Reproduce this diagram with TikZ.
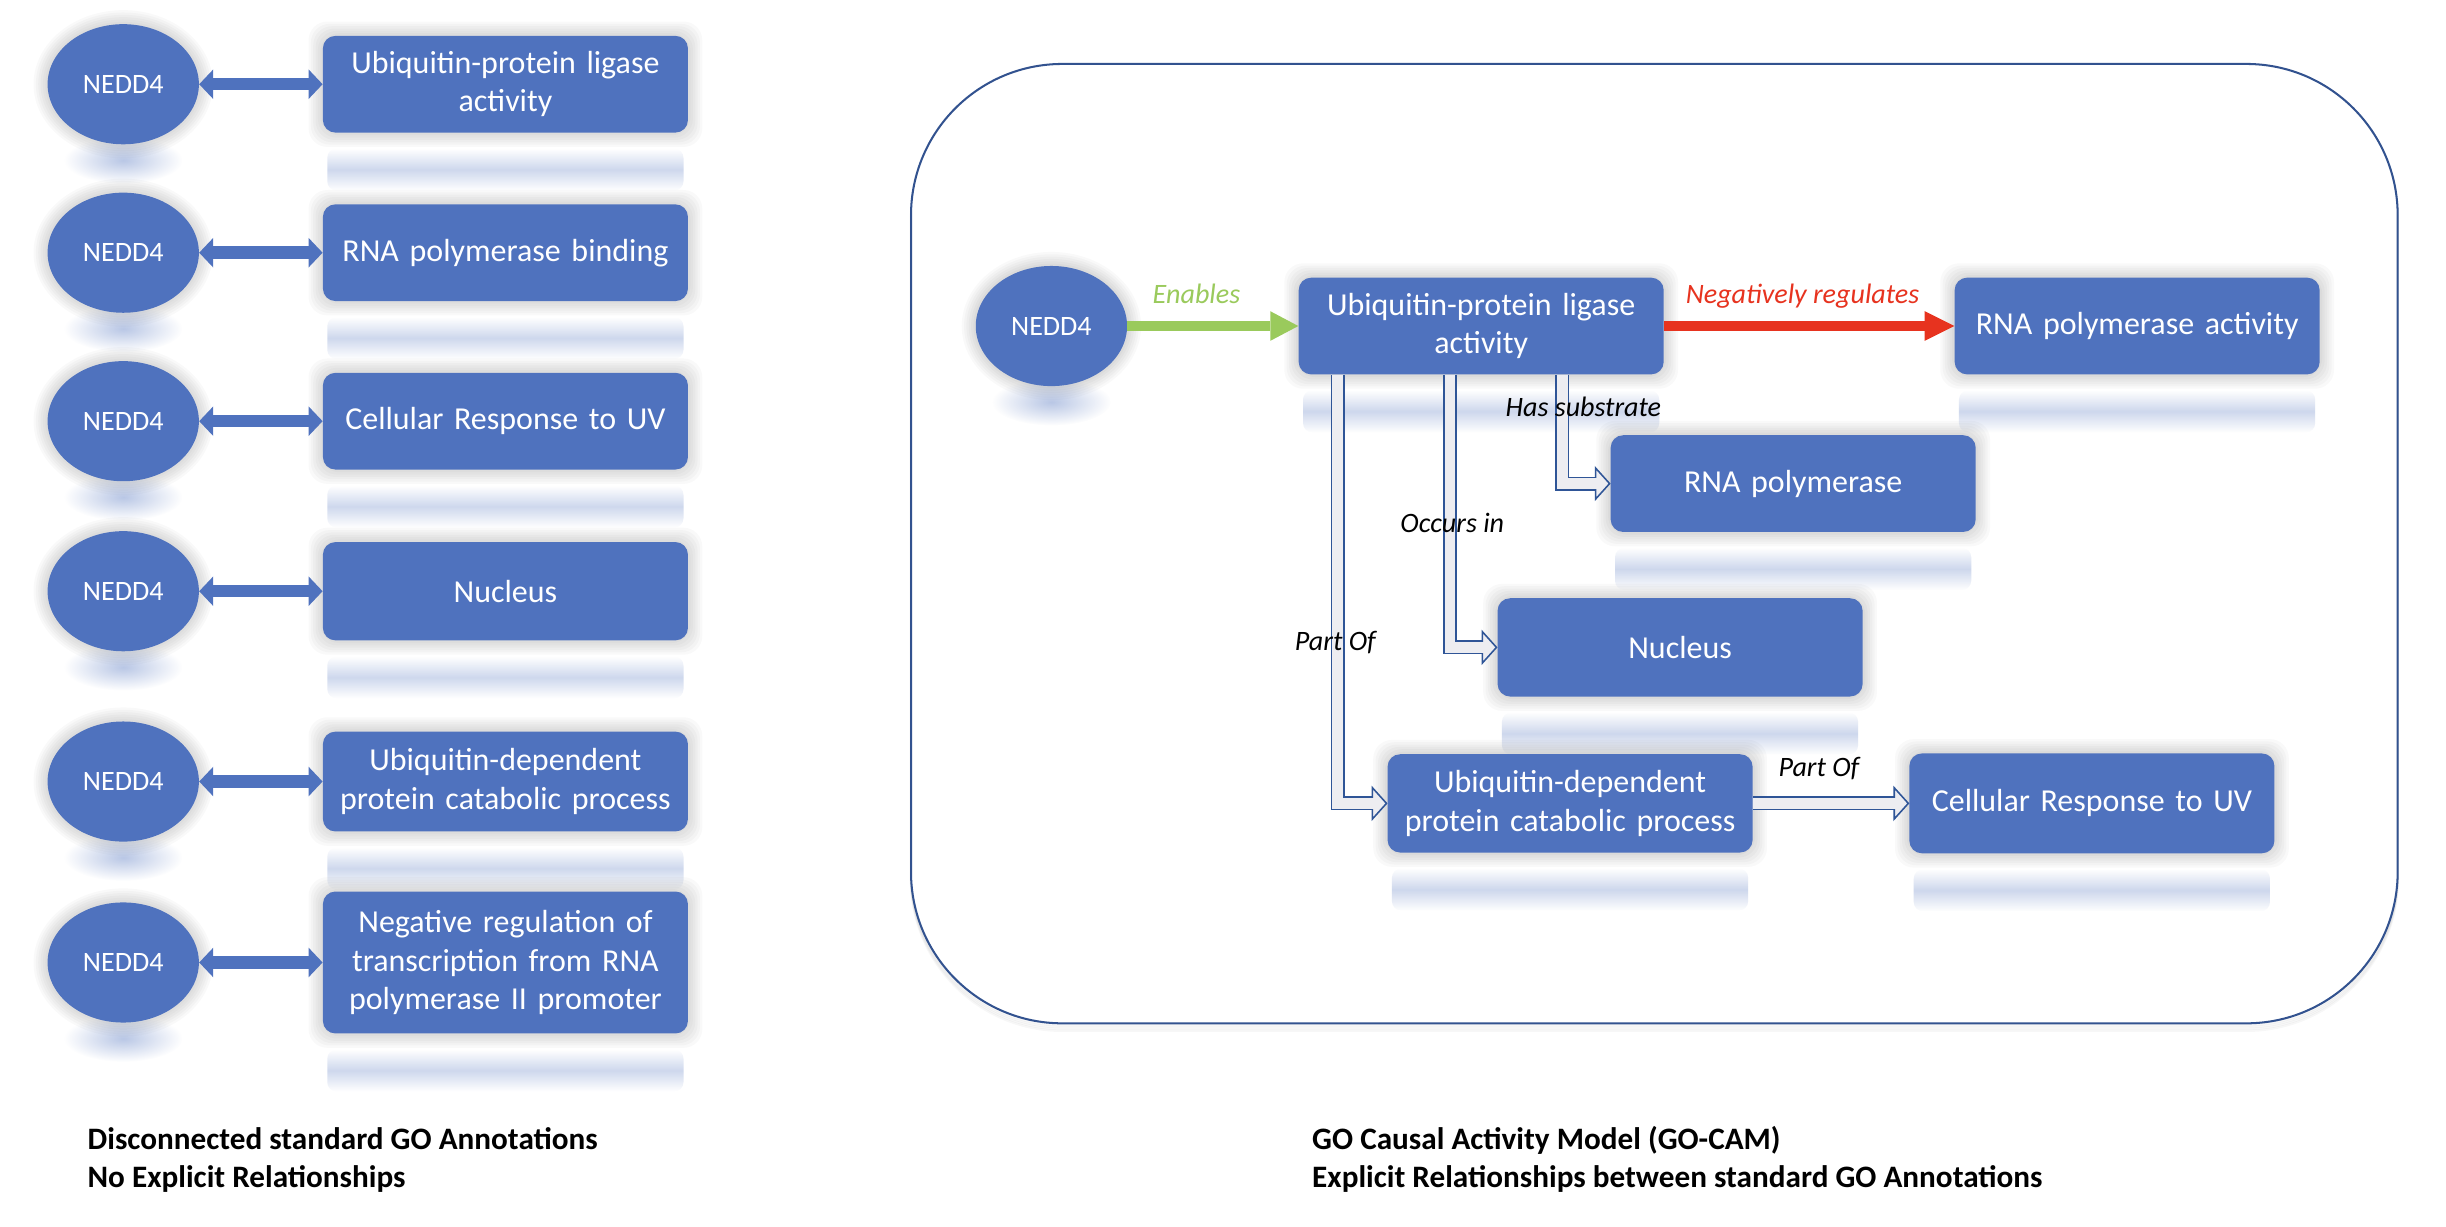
\documentclass[tikz,border=0pt]{standalone}
\usepackage{fontspec}
\setmainfont{Carlito}
\usetikzlibrary{arrows.meta,positioning,shapes.geometric,fadings}

\definecolor{boxblue}{HTML}{4F72BE}
\definecolor{enablegreen}{HTML}{9ACA5C}
\definecolor{negred}{HTML}{E7331F}
\definecolor{panelblue}{HTML}{32528F}
\definecolor{hollowedge}{HTML}{2F5597}
\definecolor{hollowfill}{HTML}{EDEDF1}

\newcommand{\genefont}{\fontsize{18}{21}\selectfont}
\newcommand{\termfont}{\fontsize{20.5}{24.5}\selectfont}
\newcommand{\relfont}{\fontsize{18}{21}\selectfont\itshape}
\newcommand{\capfont}{\fontsize{20}{24}\selectfont\bfseries}

\pgfdeclarelayer{back}
\pgfdeclarelayer{background}
\pgfsetlayers{back,background,main}

\tikzfading[name=bandfade, top color=transparent!100, bottom color=transparent!100, middle color=transparent!72]
\tikzfading[name=blobfade, inner color=transparent!60, outer color=transparent!100]

% soft halo and mirror glow under a box
\newcommand{\boxrefl}[1]{%
  \begin{pgfonlayer}{background}
  \foreach \k in {1,...,6}
    \fill[black, fill opacity=0.025, rounded corners=12pt]
      ([xshift={-1.5*\k*1pt}, yshift={1.5*\k*1pt}]#1.north west) rectangle
      ([xshift={1.5*\k*1pt}, yshift={-1.5*\k*1pt}]#1.south east);
  \fill[boxblue, path fading=bandfade, rounded corners=6pt]
    ([xshift=3pt, yshift=-10pt]#1.south west) rectangle ([xshift=-3pt, yshift=-37pt]#1.south east);
  \end{pgfonlayer}}
% soft halo and mirror glow under an ellipse
\newcommand{\generefl}[1]{%
  \begin{pgfonlayer}{background}
  \foreach \k in {1,...,6}
    \fill[black, fill opacity=0.025] (#1.center)
      ellipse [x radius={(48.5+1.5*\k)*1pt}, y radius={(38.5+1.5*\k)*1pt}];
  \fill[boxblue, path fading=blobfade] ([yshift=-10pt]#1.south) ellipse [x radius=38pt, y radius=15pt];
  \end{pgfonlayer}}
% open head of a hollow arrow
\newcommand{\hollowhead}[1]{%
  \draw[draw=hollowedge, fill=hollowfill, line width=1pt]
    ([xshift=-9.5pt, yshift=10pt]#1.west) -- ([xshift=-0.5pt]#1.west)
    -- ([xshift=-9.5pt, yshift=-10pt]#1.west) -- cycle;
  \fill[hollowfill] ([xshift=-10.3pt, yshift=-3.5pt]#1.west) rectangle ([xshift=-8.7pt, yshift=3.5pt]#1.west);}

\begin{document}
\begin{tikzpicture}[x=1pt,y=-1pt]
\tikzstyle{gene}=[ellipse, fill=boxblue, text=white, minimum width=97pt, minimum height=77pt, inner sep=0pt, font=\genefont]
\tikzstyle{term}=[rectangle, rounded corners=8pt, fill=boxblue, text=white, minimum width=234pt, minimum height=62pt,
  text width=222pt, inner sep=6pt, align=center, font=\termfont]
\tikzstyle{annot}=[draw=boxblue, line width=8pt,
  {Triangle[length=9pt, width=19pt, line width=0pt]}-{Triangle[length=9pt, width=19pt, line width=0pt]}]
\tikzstyle{enables}=[draw=enablegreen, line width=6pt, -{Triangle[length=18pt, width=19pt, line width=0pt]}]
\tikzstyle{negreg}=[draw=negred, line width=6pt, -{Triangle[length=19pt, width=19pt, line width=0pt]}]
\tikzstyle{hshaft}=[draw=hollowedge, line width=1pt, double=hollowfill, double distance=7pt]
\tikzstyle{rel}=[inner sep=0pt, font=\relfont]
\tikzstyle{capt}=[anchor=base west, inner sep=0pt, font=\capfont]

\useasboundingbox (0,0) rectangle (1568,786);

% GO-CAM frame
\begin{pgfonlayer}{back}
\foreach \k in {1,...,4}
  \draw[black, draw opacity=0.03, line width=1.5pt, rounded corners=97pt]
    (584,{41+1.2*\k}) rectangle (1537,{656+1.2*\k});
\draw[draw=panelblue, line width=1.3pt, fill=white, rounded corners=97pt] (584,41) rectangle (1537,656);
\end{pgfonlayer}

% standard annotations
\node[gene] (g1) at (79,54) {NEDD4};
\node[term] (t1) [right of=g1, node distance=245pt] {Ubiquitin-protein ligase\\activity};
\node[gene] (g2) at (79,162) {NEDD4};
\node[term] (t2) [right of=g2, node distance=245pt] {RNA polymerase binding};
\node[gene] (g3) at (79,270) {NEDD4};
\node[term] (t3) [right of=g3, node distance=245pt] {Cellular Response to UV};
\node[gene] (g4) at (79,379) {NEDD4};
\node[term] (t4) [right of=g4, node distance=245pt, minimum height=63pt] {Nucleus};
\node[gene] (g5) at (79,501) {NEDD4};
\node[term] (t5) [right of=g5, node distance=245pt, minimum height=64pt] {Ubiquitin-dependent\\protein catabolic process};
\node[gene] (g6) at (79,617) {NEDD4};
\node[term] (t6) [right of=g6, node distance=245pt, minimum height=91pt] {Negative regulation of\\transcription from RNA\\polymerase II promoter};

\generefl{g1} \generefl{g2} \generefl{g3} \generefl{g4} \generefl{g5} \generefl{g6}
\boxrefl{t1} \boxrefl{t2} \boxrefl{t3} \boxrefl{t4} \boxrefl{t5} \boxrefl{t6}

\path
(g1) edge[annot] (t1)
(g2) edge[annot] (t2)
(g3) edge[annot] (t3)
(g4) edge[annot] (t4)
(g5) edge[annot] (t5)
(g6) edge[annot] (t6)
;

% causal model
\node[gene] (nedd) at (674,209) {NEDD4};
\node[term] (ulig) [right of=nedd, node distance=275.5pt] {Ubiquitin-protein ligase\\activity};
\node[term] (rpact) [right of=ulig, node distance=420.5pt] {RNA polymerase activity};
\node[term] (rpol) at (1149.5,310) {RNA polymerase};
\node[term] (nucl) at (1077,415) [minimum height=63pt] {Nucleus};
\node[term] (ucat) at (1006.5,515) [minimum height=63pt] {Ubiquitin-dependent\\protein catabolic process};
\node[term] (cruv) at (1341,515) [minimum height=64pt] {Cellular Response to UV};

\generefl{nedd}
\boxrefl{ulig} \boxrefl{rpact} \boxrefl{rpol} \boxrefl{nucl} \boxrefl{ucat} \boxrefl{cruv}

\path
(nedd) edge[enables] (ulig)
(ulig) edge[negreg] (rpact)
;

\draw[hshaft] ([xshift=52pt]ulig.south) |- ([xshift=-9pt]rpol.west);
\hollowhead{rpol}
\draw[hshaft] ([xshift=-20pt]ulig.south) |- ([xshift=-9pt]nucl.west);
\hollowhead{nucl}
\draw[hshaft] ([xshift=-92pt]ulig.south) |- ([xshift=-9pt]ucat.west);
\hollowhead{ucat}
\draw[hshaft] (ucat.east) -- ([xshift=-9pt]cruv.west);
\hollowhead{cruv}

\node[rel, text=enablegreen] (lenab) at (767,188.5) {Enables};
\node[rel, text=negred] (lneg) at (1155.5,190) {Negatively regulates};
\node[rel] (lsub) at (1015,261) {Has substrate};
\node[rel] (locc) at (931,335) {Occurs in};
\node[rel] (lpart) at (856,412) {Part Of};
\node[rel] (lpart2) at (1166,492.5) {Part Of};

% captions
\node[capt] (lcapa) at (56,737) {Disconnected standard GO Annotations};
\node[capt] (lcapb) at (56,761) {No Explicit Relationships};
\node[capt] (rcapa) at (841,737) {GO Causal Activity Model (GO-CAM)};
\node[capt] (rcapb) at (841,761) {Explicit Relationships between standard GO Annotations};
\end{tikzpicture}
\end{document}
